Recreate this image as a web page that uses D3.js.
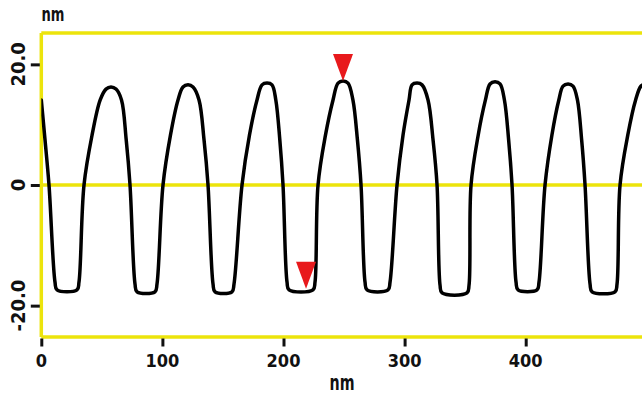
<!DOCTYPE html>
<html>
<head>
<meta charset="utf-8">
<script src="https://cdn.jsdelivr.net/npm/d3@7"></script>
<style>
  html, body { margin: 0; padding: 0; background: #fff; }
  svg { display: block; }
  .lbl { font-family: "DejaVu Sans Condensed", "DejaVu Sans", sans-serif; font-weight: bold; fill: #111; }
</style>
</head>
<body>
<div id="chart"></div>
<script>
// Height profile, [position nm, height nm]
const profile = [
  [0, 14.1], [3.06, 7.5], [6.36, 0], [11.31, -16.1], [12.97, -17.4],
  [29.48, -17.4], [31.13, -16.1],
  [35.26, 0], [41.95, 8.3], [48.64, 14.1], [53.43, 15.9], [57.56, 16.25], [61.69, 15.9], [66.23, 14.1], [70.11, 7.5], [73.25, 0], [77.38, -16.4],
  [79.03, -17.7], [93.9, -17.7], [95.55, -16.4],
  [100.5, 0], [106.69, 8.3], [112.89, 14.1], [117.02, 16.25], [121.15, 16.6], [125.28, 16.25], [130.24, 14.1], [134.37, 7.5], [137.67, 0], [141.8, -16.4],
  [143.45, -17.7], [157.49, -17.7], [159.14, -16.4],
  [165.74, 0], [171.93, 8.3], [178.13, 14.1], [182.26, 16.6], [186.39, 16.9], [190.52, 16.6], [193.65, 14.1], [196.95, 7.5], [199.6, 0], [202.91, -16.1],
  [204.56, -17.4], [224.38, -17.4], [226.03, -16.1],
  [228.51, 0], [234.7, 8.3], [240.9, 14.1], [245.03, 16.9], [249.15, 17.25], [253.28, 16.9], [257.32, 14.1], [261.04, 7.5], [264.02, 0], [267.32, -16.1],
  [268.97, -17.4], [286.32, -17.4], [287.97, -16.1],
  [293.75, 0], [298.71, 8.3], [303.66, 14.1], [306.14, 16.6], [310.27, 16.9], [314.4, 16.6], [319.35, 14.1], [323.48, 7.5], [326.79, 0], [329.26, -16.6],
  [330.91, -17.9], [351.56, -17.9], [353.21, -16.6],
  [354.86, 0], [360.8, 8.3], [366.75, 14.1], [370.55, 16.75], [374.67, 17.1], [378.8, 16.75], [382.43, 14.1], [385.9, 7.5], [388.71, 0], [392.01, -16.1],
  [393.66, -17.4], [409.35, -17.4], [411.0, -16.1],
  [415.96, 0], [421.66, 8.3], [427.36, 14.1], [430.83, 16.4], [434.96, 16.75], [439.08, 16.4], [442.72, 14.1], [446.19, 7.5], [449.0, 0], [453.13, -16.4],
  [454.78, -17.7], [473.77, -17.7], [475.42, -16.4],
  [477.9, 0], [484.33, 8.3], [490.77, 14.1], [495.23, 16.4], [499.36, 16.75]
];

// Cursor markers (tip of the red triangles)
const markers = [[249.15, 17.25], [218.6, -17.2]];

const xTicks = [0, 100, 200, 300, 400];
const yTicks = [-20, 0, 20];
const xDomain = [0, 500];
const yDomain = [-25.2, 25.2];
const unitLabel = "nm";

const W = 642, H = 394;
const margin = { top: 33, left: 41.3, bottom: 57 };
const plotRight = 646.8;
const YELLOW = "#ece40c";

const x = d3.scaleLinear().domain(xDomain).range([margin.left, plotRight]);
const y = d3.scaleLinear().domain(yDomain).range([H - margin.bottom, margin.top]);

const svg = d3.select("#chart").append("svg")
  .attr("width", W)
  .attr("height", H);

svg.append("defs").append("clipPath").attr("id", "plot-clip")
  .append("rect")
  .attr("x", margin.left).attr("y", margin.top)
  .attr("width", plotRight - margin.left)
  .attr("height", y(yDomain[0]) - margin.top);

// frame: top, bottom, left + zero line
const frame = svg.append("g")
  .attr("stroke", YELLOW)
  .attr("stroke-width", 3.5)
  .attr("fill", "none");
frame.append("line").attr("x1", x(0)).attr("x2", W).attr("y1", y(yDomain[1])).attr("y2", y(yDomain[1]));
frame.append("line").attr("x1", x(0)).attr("x2", W).attr("y1", y(yDomain[0])).attr("y2", y(yDomain[0]));
frame.append("line").attr("x1", x(0)).attr("x2", x(0)).attr("y1", y(yDomain[1])).attr("y2", y(yDomain[0]));
frame.append("line").attr("x1", x(0)).attr("x2", W).attr("y1", y(0)).attr("y2", y(0));

// y axis (ticks only, labels rotated)
svg.append("g")
  .attr("transform", `translate(${x(0) - 1.5},0)`)
  .call(d3.axisLeft(y).tickValues(yTicks).tickSize(9).tickFormat(""))
  .call((g) => {
    g.select(".domain").remove();
    g.selectAll("line").attr("stroke", "#111").attr("stroke-width", 3);
  });

svg.append("g").selectAll("text")
  .data(yTicks)
  .join("text")
  .attr("class", "lbl")
  .attr("transform", (d) => `translate(25,${y(d)}) rotate(-90)`)
  .attr("text-anchor", "middle")
  .style("font-size", "20px")
  .text((d) => (d === 0 ? "0" : d.toFixed(1)));

// x axis
svg.append("g")
  .attr("transform", `translate(0,${y(yDomain[0]) + 1.5})`)
  .call(d3.axisBottom(x).tickValues(xTicks).tickSize(8).tickFormat(""))
  .call((g) => {
    g.select(".domain").remove();
    g.selectAll("line").attr("stroke", "#111").attr("stroke-width", 3);
  });

svg.append("g").selectAll("text")
  .data(xTicks)
  .join("text")
  .attr("class", "lbl")
  .attr("x", (d) => x(d))
  .attr("y", 367)
  .attr("text-anchor", "middle")
  .style("font-size", "18px")
  .text((d) => d);

// unit labels
svg.append("text")
  .attr("class", "lbl")
  .attr("x", 342).attr("y", 390)
  .attr("text-anchor", "middle")
  .attr("textLength", 25).attr("lengthAdjust", "spacingAndGlyphs")
  .style("font-size", "21px")
  .text(unitLabel);

svg.append("text")
  .attr("class", "lbl")
  .attr("x", 53).attr("y", 21)
  .attr("text-anchor", "middle")
  .attr("textLength", 23).attr("lengthAdjust", "spacingAndGlyphs")
  .style("font-size", "20px")
  .text(unitLabel);

// profile line
const line = d3.line()
  .x((d) => x(d[0]))
  .y((d) => y(d[1]))
  .curve(d3.curveCatmullRom.alpha(0.5));

svg.append("path")
  .datum(profile)
  .attr("clip-path", "url(#plot-clip)")
  .attr("fill", "none")
  .attr("stroke", "#000")
  .attr("stroke-width", 3.5)
  .attr("stroke-linejoin", "round")
  .attr("stroke-linecap", "round")
  .attr("d", line);

// red cursor triangles, tip on the point
const triW = 20, triH = 27;
svg.append("g").selectAll("path")
  .data(markers)
  .join("path")
  .attr("fill", "#e8191c")
  .attr("d", (d) => {
    const px = x(d[0]), py = y(d[1]);
    return `M${px},${py}L${px - triW / 2},${py - triH}L${px + triW / 2},${py - triH}Z`;
  });
</script>
</body>
</html>
